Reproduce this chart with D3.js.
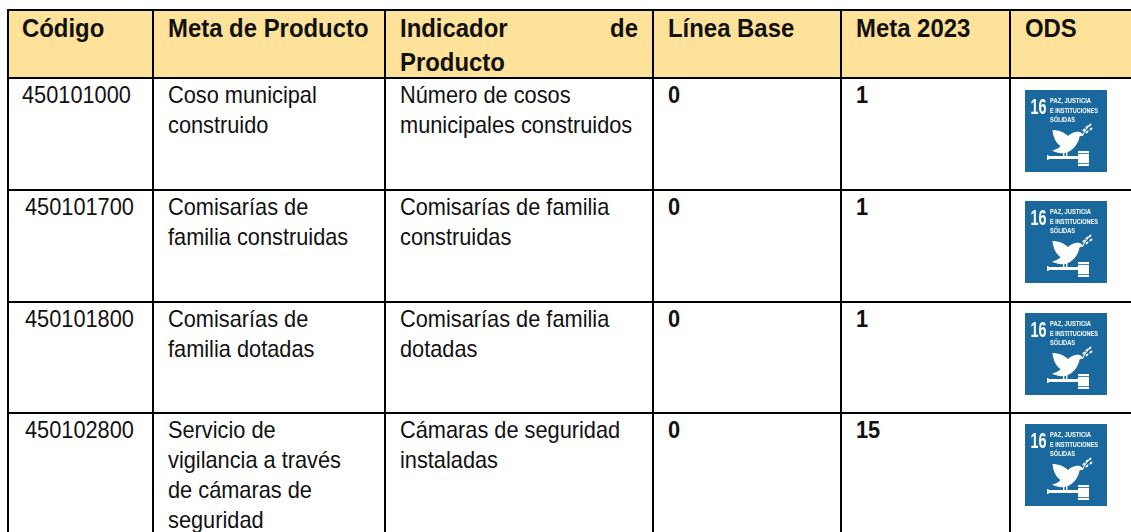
<!DOCTYPE html>
<html>
<head>
<meta charset="utf-8">
<script src="https://cdn.jsdelivr.net/npm/d3@7/dist/d3.min.js"></script>
<style>
  html, body { margin: 0; padding: 0; background: #fff; }
  svg { display: block; }
  text { font-family: "Liberation Sans", Arial, sans-serif; fill: #111; }
</style>
</head>
<body>
<svg id="chart" width="1131" height="532"></svg>
<script>
var headers = ["Código", "Meta de Producto", "Indicador", "Línea Base", "Meta 2023", "ODS"];
var codes = ["450101000", "450101700", "450101800", "450102800"];
var metas = [
  ["Coso municipal", "construido"],
  ["Comisarías de", "familia construidas"],
  ["Comisarías de", "familia dotadas"],
  ["Servicio de", "vigilancia a través", "de cámaras de", "seguridad"]
];
var indicadores = [
  ["Número de cosos", "municipales construidos"],
  ["Comisarías de familia", "construidas"],
  ["Comisarías de familia", "dotadas"],
  ["Cámaras de seguridad", "instaladas"]
];
var lineaBase = ["0", "0", "0", "0"];
var meta2023 = ["1", "1", "1", "15"];
var badgeLines = ["PAZ, JUSTICIA", "E INSTITUCIONES", "SÓLIDAS"];

// layout
var colEdges = [8, 153, 385, 653, 841, 1010, 1131];
var rowEdges = [10, 78, 190, 302, 413, 532];
var textX = [22, 168, 400, 668, 856, 1025];
var codeX = [22, 25, 25, 25];
var baseY = [103, 215, 327, 438];
var badgeY = [90, 201, 313, 424];

var svg = d3.select("#chart");

// narrow text: the source font is a condensed Arial
function label(parent, s, x, y, size, bold, sx) {
  return parent.append("text")
    .attr("transform", "translate(" + x + "," + y + ") scale(" + sx + ",1)")
    .attr("font-size", size)
    .attr("font-weight", bold ? "bold" : "normal")
    .text(s);
}

// header band
svg.append("rect")
  .attr("x", colEdges[0]).attr("y", rowEdges[0])
  .attr("width", colEdges[6] - colEdges[0])
  .attr("height", rowEdges[1] - rowEdges[0])
  .attr("fill", "#ffe299");

headers.forEach(function(h, i) {
  label(svg, h, textX[i], 37, 26, true, 0.92);
});
// third header is justified over two lines
label(svg, "de", 638, 37, 26, true, 0.92).attr("text-anchor", "end");
label(svg, "Producto", textX[2], 71, 26, true, 0.92);

// body rows
function cell(lines, x, y, bold) {
  lines.forEach(function(s, k) {
    label(svg, s, x, y + k * 30, 24, bold, 0.907);
  });
}

// ODS 16 badge, drawn from simple shapes
function drawBadge(x, y) {
  var g = svg.append("g").attr("transform", "translate(" + x + "," + y + ")");
  g.append("rect").attr("width", 82).attr("height", 82).attr("fill", "#19699f");
  var inner = g.append("g").style("filter", "blur(0.35px)");
  inner.append("text").attr("x", 5.5).attr("y", 23.5).attr("font-size", 22).attr("font-weight", "bold")
    .attr("textLength", 16).attr("lengthAdjust", "spacingAndGlyphs").style("fill", "#fff").text("16");
  var lens = [41, 48, 25];
  badgeLines.forEach(function(s, k) {
    inner.append("text").attr("x", 25).attr("y", 13.3 + k * 9.4).attr("font-size", 7.7).attr("font-weight", "bold")
      .attr("textLength", lens[k]).attr("lengthAdjust", "spacingAndGlyphs")
      .style("fill", "#fff").text(s);
  });
  // dove
  inner.append("path").attr("fill", "#fff")
    .attr("d", "M27.5,40 C33,40 39,42 43,46 C46,43 51,41 55,42 L59,45 L54.5,46.5 C54,52 49,60 42,62.5 C37,64 32,63 27,60.5 C31,60 34,58 35.5,56 C31,53 28,47 27.5,40Z");
  // olive branch
  inner.append("path").attr("fill", "none").attr("stroke", "#fff").attr("stroke-width", 1)
    .attr("d", "M57,46 C59,42 62,38 65,35");
  [[59, 40], [62, 37], [65, 35], [62, 42], [66, 39]].forEach(function(p) {
    inner.append("ellipse").attr("cx", p[0]).attr("cy", p[1]).attr("rx", 1.8).attr("ry", 1)
      .attr("transform", "rotate(-40 " + p[0] + " " + p[1] + ")").attr("fill", "#fff");
  });
  // legs
  inner.append("rect").attr("x", 38).attr("y", 61).attr("width", 1.4).attr("height", 6).attr("fill", "#fff");
  inner.append("rect").attr("x", 41).attr("y", 61).attr("width", 1.4).attr("height", 6).attr("fill", "#fff");
  // gavel
  inner.append("rect").attr("x", 22).attr("y", 66).attr("width", 32).attr("height", 3).attr("fill", "#fff");
  inner.append("rect").attr("x", 22).attr("y", 65).attr("width", 1.5).attr("height", 5).attr("fill", "#fff");
  inner.append("rect").attr("x", 53).attr("y", 61).attr("width", 11).attr("height", 15).attr("fill", "#fff");
  inner.append("rect").attr("x", 53).attr("y", 63).attr("width", 11).attr("height", 0.8).attr("fill", "#19699f");
  inner.append("rect").attr("x", 53).attr("y", 73).attr("width", 11).attr("height", 0.8).attr("fill", "#19699f");
}

codes.forEach(function(c, i) {
  cell([c], codeX[i], baseY[i], false);
  cell(metas[i], textX[1], baseY[i], false);
  cell(indicadores[i], textX[2], baseY[i], false);
  cell([lineaBase[i]], textX[3], baseY[i], true);
  cell([meta2023[i]], textX[4], baseY[i], true);
  drawBadge(textX[5], badgeY[i]);
});

// grid lines
var grid = svg.append("g").attr("stroke", "#000").attr("stroke-width", 2);
colEdges.slice(0, 6).forEach(function(x) {
  grid.append("line").attr("x1", x).attr("x2", x).attr("y1", rowEdges[0] - 1).attr("y2", 532);
});
rowEdges.slice(0, 5).forEach(function(y) {
  grid.append("line").attr("x1", colEdges[0] - 1).attr("x2", 1131).attr("y1", y).attr("y2", y);
});
</script>
</body>
</html>
